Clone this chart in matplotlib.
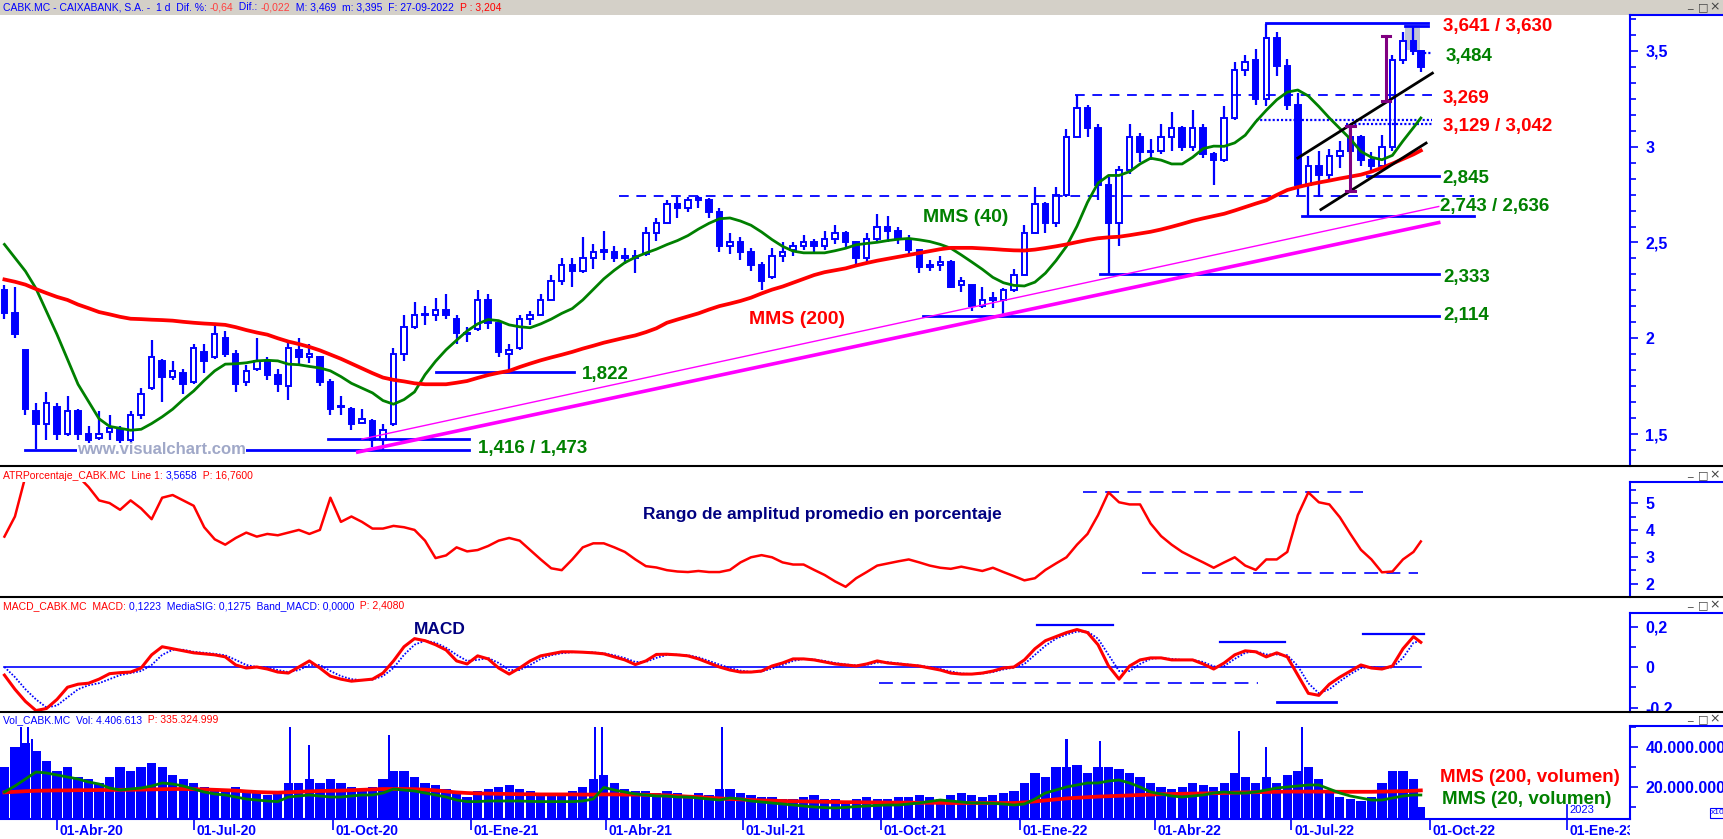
import numpy as np
import pandas as pd
import matplotlib
matplotlib.use('Agg')
import matplotlib.pyplot as plt
from matplotlib.lines import Line2D
from matplotlib.patches import Rectangle
from matplotlib.transforms import Bbox, TransformedBbox

plt.rcParams['font.family'] = ['Liberation Sans', 'DejaVu Sans']
plt.rcParams['lines.scale_dashes'] = False

# ---------------- DATA (weekly) ----------------
week_start = pd.date_range('2020-02-24', periods=136, freq='7D')

opens = [2.25,2.13,1.94,1.62,1.55,1.64,1.50,1.62,1.50,1.48,
1.51,1.52,1.47,1.60,1.74,1.88,1.80,1.82,1.77,1.93,
1.90,2.00,1.92,1.77,1.84,1.88,1.81,1.75,1.94,1.90,
1.90,1.77,1.64,1.63,1.56,1.57,1.47,1.55,1.92,2.06,
2.12,2.12,2.15,2.10,2.03,2.05,2.20,2.08,1.92,1.95,
2.10,2.12,2.20,2.30,2.38,2.35,2.42,2.46,2.45,2.42,
2.42,2.44,2.55,2.60,2.70,2.68,2.72,2.72,2.66,2.48,
2.50,2.45,2.38,2.32,2.43,2.46,2.48,2.50,2.48,2.52,
2.55,2.50,2.42,2.52,2.58,2.56,2.52,2.46,2.37,2.38,
2.40,2.28,2.28,2.17,2.20,2.20,2.25,2.33,2.55,2.70,
2.60,2.75,3.05,3.20,3.10,2.80,2.60,2.88,3.05,2.97,
2.98,3.05,3.10,3.00,3.10,2.96,2.93,3.15,3.40,3.45,
3.25,3.57,3.42,3.22,2.80,2.90,2.85,2.95,2.98,3.05,
2.93,2.90,3.00,3.45,3.55,3.50]
highs = [2.28,2.27,1.94,1.66,1.72,1.66,1.70,1.63,1.54,1.62,
1.60,1.54,1.62,1.74,1.99,1.89,1.88,1.84,1.97,1.97,
2.08,2.04,1.94,1.86,2.00,1.90,1.84,1.98,2.00,1.97,
1.91,1.79,1.70,1.64,1.63,1.58,1.55,1.95,2.12,2.19,
2.17,2.21,2.23,2.12,2.06,2.25,2.23,2.08,1.97,2.12,
2.14,2.23,2.33,2.42,2.42,2.53,2.49,2.56,2.48,2.47,
2.46,2.58,2.63,2.72,2.74,2.74,2.745,2.73,2.68,2.55,
2.53,2.47,2.40,2.47,2.50,2.50,2.54,2.52,2.56,2.59,
2.56,2.51,2.55,2.65,2.64,2.58,2.54,2.46,2.41,2.43,
2.41,2.32,2.28,2.27,2.24,2.26,2.36,2.59,2.79,2.71,
2.79,3.09,3.27,3.22,3.12,2.84,2.90,3.12,3.07,3.04,
3.12,3.18,3.11,3.19,3.12,2.97,3.21,3.44,3.48,3.51,
3.641,3.60,3.46,3.28,2.95,2.98,2.99,3.03,3.11,3.06,
2.97,3.06,3.48,3.60,3.63,3.50]
lows = [2.10,2.00,1.60,1.42,1.47,1.47,1.49,1.47,1.45,1.47,
1.47,1.45,1.45,1.58,1.73,1.67,1.78,1.71,1.76,1.82,
1.89,1.90,1.72,1.75,1.83,1.78,1.72,1.68,1.86,1.87,
1.75,1.60,1.60,1.52,1.55,1.43,1.416,1.54,1.88,2.05,
2.07,2.09,2.10,1.97,1.98,2.04,2.05,1.90,1.822,1.94,
2.07,2.12,2.20,2.28,2.27,2.34,2.36,2.41,2.40,2.39,
2.34,2.43,2.51,2.60,2.63,2.66,2.68,2.63,2.45,2.44,
2.41,2.35,2.25,2.31,2.40,2.43,2.46,2.44,2.46,2.49,
2.47,2.37,2.40,2.51,2.50,2.49,2.43,2.34,2.35,2.35,
2.26,2.24,2.14,2.16,2.16,2.114,2.24,2.33,2.55,2.55,
2.58,2.74,3.05,3.05,2.72,2.333,2.48,2.86,2.92,2.93,
2.96,2.98,2.98,2.98,2.94,2.80,2.92,3.14,3.37,3.22,
3.21,3.37,3.19,2.75,2.636,2.74,2.83,2.89,2.96,2.90,
2.87,2.89,2.98,3.43,3.48,3.39]
closes = [2.13,2.02,1.63,1.55,1.66,1.50,1.62,1.50,1.47,1.50,
1.53,1.47,1.60,1.71,1.90,1.80,1.83,1.76,1.95,1.88,
2.02,1.92,1.76,1.83,1.88,1.81,1.76,1.95,1.90,1.92,
1.77,1.63,1.64,1.55,1.58,1.47,1.52,1.92,2.06,2.12,
2.12,2.15,2.12,2.03,2.02,2.20,2.08,1.93,1.94,2.10,
2.12,2.20,2.30,2.38,2.35,2.42,2.45,2.45,2.42,2.42,
2.43,2.55,2.60,2.70,2.68,2.72,2.73,2.66,2.48,2.50,
2.45,2.38,2.30,2.43,2.45,2.48,2.50,2.48,2.52,2.55,
2.50,2.42,2.52,2.58,2.56,2.52,2.46,2.37,2.38,2.40,
2.27,2.30,2.17,2.20,2.20,2.25,2.33,2.55,2.70,2.60,
2.75,3.05,3.20,3.10,2.80,2.60,2.88,3.05,2.97,2.98,
3.05,3.10,3.00,3.10,2.96,2.93,3.15,3.40,3.44,3.25,
3.57,3.42,3.22,2.80,2.90,2.85,2.95,2.98,3.05,2.93,
2.90,3.00,3.45,3.55,3.50,3.415]

ma40 = [2.49,2.42,2.35,2.26,2.14,2.02,1.89,1.76,1.67,1.58,
1.54,1.53,1.52,1.525,1.555,1.59,1.63,1.68,1.725,1.78,
1.83,1.865,1.867,1.872,1.882,1.885,1.882,1.865,1.862,1.853,
1.845,1.83,1.80,1.765,1.74,1.715,1.675,1.656,1.68,1.72,
1.81,1.88,1.94,1.99,2.038,2.075,2.098,2.092,2.07,2.06,
2.055,2.075,2.10,2.13,2.155,2.20,2.255,2.31,2.355,2.395,
2.423,2.445,2.465,2.489,2.51,2.536,2.57,2.60,2.624,2.628,
2.612,2.59,2.555,2.515,2.48,2.455,2.446,2.446,2.446,2.457,
2.47,2.488,2.495,2.501,2.51,2.517,2.521,2.514,2.505,2.49,
2.47,2.435,2.398,2.36,2.318,2.29,2.276,2.273,2.293,2.34,
2.405,2.48,2.585,2.71,2.81,2.85,2.85,2.87,2.91,2.94,
2.93,2.91,2.91,2.945,2.99,3.003,3.002,3.02,3.06,3.13,
3.19,3.245,3.285,3.296,3.265,3.21,3.15,3.095,3.04,2.975,
2.945,2.932,2.955,3.03,3.10,3.15]
ma200 = [2.307,2.295,2.28,2.257,2.236,2.216,2.20,2.176,2.157,2.137,
2.125,2.112,2.102,2.10,2.097,2.095,2.092,2.086,2.081,2.077,
2.074,2.07,2.058,2.043,2.03,2.019,2.0,1.983,1.97,1.955,
1.937,1.915,1.893,1.868,1.843,1.818,1.795,1.783,1.775,1.765,
1.76,1.76,1.76,1.768,1.777,1.793,1.808,1.82,1.83,1.85,
1.868,1.885,1.90,1.914,1.929,1.946,1.961,1.977,1.99,2.003,
2.015,2.032,2.052,2.081,2.098,2.114,2.13,2.15,2.168,2.181,
2.195,2.212,2.234,2.254,2.27,2.29,2.31,2.33,2.345,2.355,
2.365,2.38,2.393,2.405,2.415,2.425,2.435,2.445,2.455,2.465,
2.472,2.472,2.472,2.469,2.466,2.462,2.459,2.458,2.463,2.471,
2.48,2.49,2.502,2.513,2.522,2.527,2.53,2.538,2.547,2.556,
2.568,2.582,2.597,2.613,2.626,2.638,2.65,2.667,2.685,2.703,
2.72,2.748,2.774,2.789,2.802,2.813,2.823,2.834,2.844,2.854,
2.87,2.89,2.912,2.936,2.96,2.98]

atr = [3.75,4.5,6.0,6.5,6.5,6.5,6.3,6.0,5.6,5.1,
5.0,4.75,5.1,4.8,4.4,5.2,5.3,5.1,4.9,4.1,
3.65,3.45,3.7,3.9,3.75,3.85,3.8,3.9,4.0,3.85,
4.0,5.2,4.3,4.5,4.3,4.05,4.05,4.15,4.1,4.0,
3.6,2.95,3.05,3.35,3.2,3.25,3.4,3.6,3.7,3.6,
3.25,2.9,2.57,2.5,2.9,3.35,3.5,3.5,3.35,3.18,
2.9,2.65,2.6,2.5,2.45,2.43,2.47,2.43,2.43,2.51,
2.79,2.98,3.06,2.98,2.79,2.71,2.71,2.51,2.32,2.08,
1.88,2.2,2.43,2.67,2.75,2.83,2.9,2.79,2.67,2.59,
2.55,2.63,2.55,2.47,2.59,2.43,2.28,2.12,2.2,2.51,
2.75,2.98,3.45,3.85,4.55,5.4,5.03,4.95,4.95,4.24,
3.77,3.45,3.18,2.98,2.79,2.59,2.79,2.98,2.67,2.51,
2.9,2.9,3.18,4.55,5.4,5.03,4.95,4.47,3.85,3.26,
2.9,2.42,2.45,2.9,3.18,3.57]

macd = [-0.04,-0.11,-0.17,-0.215,-0.205,-0.16,-0.10,-0.085,-0.08,-0.06,
-0.033,-0.028,-0.025,-0.005,0.06,0.10,0.09,0.08,0.07,0.065,
0.06,0.05,0.01,-0.005,0.0,-0.01,-0.025,-0.03,0.0,0.03,
-0.005,-0.045,-0.06,-0.07,-0.065,-0.06,-0.03,0.03,0.10,0.14,
0.13,0.11,0.084,0.03,0.015,0.055,0.04,-0.005,-0.035,-0.005,
0.03,0.055,0.065,0.075,0.075,0.073,0.07,0.065,0.05,0.035,
0.012,0.03,0.062,0.063,0.06,0.055,0.04,0.02,0.0,-0.015,
-0.025,-0.025,-0.02,0.005,0.02,0.04,0.04,0.035,0.025,0.015,
0.01,0.005,0.015,0.03,0.02,0.015,0.01,0.005,-0.005,-0.015,
-0.03,-0.035,-0.035,-0.03,-0.02,-0.005,0.0,0.035,0.09,0.13,
0.15,0.17,0.185,0.17,0.11,0.005,-0.06,0.005,0.035,0.045,
0.045,0.035,0.035,0.035,0.015,-0.01,0.02,0.06,0.08,0.075,
0.05,0.07,0.05,-0.04,-0.13,-0.14,-0.085,-0.05,-0.02,0.01,
-0.005,-0.01,0.005,0.09,0.15,0.122]
signal = [0.0,-0.05,-0.11,-0.16,-0.2,-0.19,-0.15,-0.11,-0.09,-0.08,
-0.06,-0.04,-0.03,-0.02,0.01,0.06,0.085,0.085,0.075,0.07,
0.065,0.058,0.035,0.01,0.0,-0.003,-0.015,-0.025,-0.015,0.01,
0.01,-0.02,-0.045,-0.06,-0.065,-0.062,-0.045,-0.005,0.06,0.11,
0.13,0.12,0.095,0.06,0.03,0.035,0.045,0.02,-0.015,-0.015,
0.01,0.04,0.058,0.068,0.073,0.074,0.072,0.068,0.058,0.044,
0.025,0.025,0.045,0.06,0.061,0.058,0.048,0.03,0.012,-0.005,
-0.018,-0.024,-0.022,-0.008,0.01,0.03,0.04,0.037,0.03,0.02,
0.013,0.008,0.01,0.022,0.024,0.018,0.012,0.007,0.0,-0.01,
-0.022,-0.032,-0.035,-0.032,-0.025,-0.012,-0.003,0.015,0.06,0.105,
0.14,0.16,0.175,0.175,0.14,0.06,-0.02,-0.02,0.015,0.04,
0.045,0.04,0.035,0.035,0.025,0.003,0.005,0.04,0.07,0.078,
0.062,0.062,0.058,0.005,-0.08,-0.13,-0.11,-0.07,-0.035,-0.005,
0.0,-0.007,-0.002,0.045,0.12,0.128]

volume_m = [30,40,42,38,33,28,30,25,24,22,
25,30,28,30,32,30,26,24,22,20,
18,19,20,18,17,16,18,22,22,24,
22,24,22,20,19,20,24,28,28,25,
22,21,19,18,15,18,19,20,21,19,
18,17,16,17,18,20,24,26,22,19,
18,18,17,18,17,16,17,16,19,19,
17,16,15,15,14,14,15,16,14,14,
13,14,15,14,14,15,15,16,15,14,
16,17,16,15,16,17,18,22,27,25,
30,30,31,27,30,30,29,27,25,22,
20,19,20,22,21,20,22,27,25,22,
25,22,26,28,30,24,18,15,14,13,
15,22,28,28,24,10]
spike_dates = ['2020-03-09','2020-03-12','2020-03-16','2020-09-03','2020-09-16',
               '2020-11-09','2021-03-25','2021-03-30','2021-06-17','2022-02-02',
               '2022-02-24','2022-05-27','2022-06-15','2022-07-08']
spike_vol_m = [50,50,44,50,41,46,50,50,50,44,43,48,40,50]
vma20 = [17.5,20.5,24,27.5,27,26,25,24,22.5,21.5,
19.5,18.5,19,19.5,20.5,22,21.5,20.5,19,17.5,
16.5,16,15,14,13.5,13,12.7,15,15.5,16,
15.5,15,15,15.5,16,16,17,19,18.5,18,
17,16,15,13.5,12.7,12.7,13,13,13,13,
12.8,12.7,12.7,12.7,12.7,13,14,19.8,18.5,17.5,
16.5,16,15.5,15.5,15,15,14.5,14,13.5,14.5,
14,13,12.5,12,11.5,11,10.5,10,9.7,9.5,
9.8,10.2,10.5,10.8,11,11,11.5,12,12.8,13.5,
13,12.5,12,12,11.8,11.5,11,11.5,14,17,
18.5,20,21,22,22,23,23.5,22,20,17.5,
16.5,15.5,15,15.5,16,17,17.5,17,17,17.5,
18.5,19.5,20,20.5,21,21,19,17,15.5,14.5,
13.5,13.5,14.5,15.5,16,16]
vma200 = [17.3,17.6,17.9,18.1,18.2,18.3,18.3,18.4,18.4,18.5,
18.5,18.6,18.6,18.7,18.8,18.9,19.0,19.0,18.9,18.8,
18.6,18.4,18.2,17.8,17.5,17.3,17.2,17.4,17.6,17.8,
18.0,18.1,18.2,18.4,18.6,18.8,19.0,19.0,19.0,18.9,
18.7,18.3,17.8,17.3,17.0,16.8,16.7,16.6,16.5,16.4,
16.4,16.3,16.3,16.3,16.3,16.2,16.2,16.3,16.3,16.2,
16.2,16.1,16.0,15.8,15.5,15.2,15.0,14.6,14.3,14.0,
13.8,13.5,13.3,13.2,13.0,12.9,12.8,12.7,12.6,12.5,
12.4,12.4,12.3,12.3,12.2,12.2,12.2,12.1,12.1,12.1,
12.0,12.0,12.0,12.0,12.0,12.0,12.0,12.3,12.8,13.3,
13.8,14.3,14.6,14.9,15.2,15.4,15.6,15.8,16.0,16.2,
16.4,16.5,16.6,16.7,16.8,16.9,17.0,17.2,17.3,17.4,
17.5,17.6,17.7,17.7,17.7,17.7,17.7,17.6,17.6,17.6,
17.6,17.7,17.8,17.9,18.1,18.3]

quarter_dates = ['2020-04-01','2020-07-01','2020-10-01','2021-01-01','2021-04-01',
                 '2021-07-01','2021-10-01','2022-01-01','2022-04-01','2022-07-01',
                 '2022-10-01','2023-01-01']
quarter_labels = ['01-Abr-20','01-Jul-20','01-Oct-20','01-Ene-21','01-Abr-21',
                  '01-Jul-21','01-Oct-21','01-Ene-22','01-Abr-22','01-Jul-22',
                  '01-Oct-22','01-Ene-23']

# ---------------- LAYOUT ----------------
W, H = 1723, 839
BLUE = '#0000FF'; RED = '#FF0000'; GREEN = '#008000'; NAVY = '#000080'
fig = plt.figure(figsize=(W/100, H/100), dpi=100)
fig.patch.set_facecolor('white')

BASE = np.datetime64('2020-04-01', 'D')
def bidx(d):
    return np.busday_count(BASE, np.asarray(d, dtype='datetime64[D]')).astype(float)

px_per = (1567 - 57) / bidx('2023-01-02')
X0 = -57 / px_per
X1 = (1630 - 57) / px_per

wk = bidx(week_start.values.astype('datetime64[D]')) + 2.0
wk[-1] -= 1.5

def add_ax(x0, y0, x1, y1):
    ax = fig.add_axes([x0/W, 1-y1/H, (x1-x0)/W, (y1-y0)/H])
    ax.set_xlim(X0, X1)
    for s in ['top', 'left', 'bottom']:
        ax.spines[s].set_visible(False)
    ax.spines['right'].set_color(BLUE)
    ax.spines['right'].set_linewidth(1.5)
    ax.yaxis.tick_right()
    ax.tick_params(axis='x', bottom=False, labelbottom=False)
    ax.tick_params(axis='y', which='both', colors=BLUE, direction='out', width=1.2, pad=5)
    ax.tick_params(axis='y', which='major', length=6, labelsize=11.5)
    ax.tick_params(axis='y', which='minor', length=4)
    ax.patch.set_alpha(0)
    return ax

def fline(x0, x1, y, color, lw=1.5):
    fig.add_artist(Line2D([x0/W, x1/W], [1-y/H, 1-y/H], transform=fig.transFigure,
                          color=color, lw=lw))

def ftext(x, y, s, **kw):
    return fig.text(x/W, 1-y/H, s, **kw)

# header strip
fig.add_artist(Rectangle((0, 1-15/H), 1, 15/H, transform=fig.transFigure,
                         fc='#D4D0C8', ec='none', zorder=0))

ax_p = add_ax(0, 15, 1630, 466)
ax_a = add_ax(0, 482, 1630, 597)
ax_m = add_ax(0, 613, 1630, 712)
ax_v = add_ax(0, 726, 1630, 819)

# ---------- price panel ----------
o = np.array(opens); h = np.array(highs); l = np.array(lows); c = np.array(closes)
ax_p.set_ylim(3 + (147-466)/192, 3 + (147-15)/192)
ax_p.vlines(wk, l, h, color=BLUE, lw=1.6, zorder=2)
body_lo = np.minimum(o, c)
body_h = np.maximum(np.abs(c - o), 0.008)
ax_p.bar(wk, body_h, bottom=body_lo, width=2.6,
         color=['white' if cc >= oo else BLUE for oo, cc in zip(o, c)],
         edgecolor=BLUE, lw=1.4, zorder=3)
ax_p.plot(wk, ma40, color=GREEN, lw=2.0, zorder=5)
ax_p.plot(wk, ma200, color=RED, lw=2.7, zorder=5)

def d(s):
    return bidx(s)

# horizontal levels
solid = dict(color=BLUE, lw=2.0, zorder=4)
dashed = dict(color=BLUE, lw=1.3, dashes=(7, 5.5), zorder=4)
dotted = dict(color=BLUE, lw=1.6, dashes=(1.5, 1.5), zorder=4)
ax_p.plot([d('2022-06-15'), d('2022-09-30')], [3.644, 3.644], **solid)
ax_p.plot([d('2022-09-15'), d('2022-09-30')], [3.630, 3.630], **solid)
ax_p.add_patch(Rectangle((d('2022-09-15'), 3.505), d('2022-09-26') - d('2022-09-15'), 0.13,
                         fc='#C0C4D4', ec='none', zorder=1))
ax_p.plot([d('2022-09-26'), d('2022-10-04')], [3.488, 3.488], **dotted)
ax_p.plot([d('2022-02-08'), d('2022-10-06')], [3.269, 3.269], **dashed)
ax_p.plot([d('2022-06-08'), d('2022-10-04')], [3.141, 3.141], **dotted)
ax_p.plot([d('2022-08-08'), d('2022-10-04')], [3.120, 3.120], **dotted)
ax_p.plot([d('2022-08-22'), d('2022-10-07')], [2.845, 2.845], **solid)
ax_p.plot([d('2021-04-09'), d('2022-11-01')], [2.743, 2.743], **dashed)
ax_p.plot([d('2022-07-08'), d('2022-11-01')], [2.636, 2.636], **solid)
ax_p.plot([d('2022-02-24'), d('2022-10-07')], [2.333, 2.333], **solid)
ax_p.plot([d('2021-10-29'), d('2022-10-07')], [2.114, 2.114], **solid)
ax_p.plot([d('2020-12-09'), d('2021-03-11')], [1.822, 1.822], **solid)
ax_p.plot([d('2020-09-29'), d('2020-12-31')], [1.473, 1.473], **solid)
ax_p.plot([d('2020-03-11'), d('2020-12-31')], [1.416, 1.416], **solid)

# trend lines
ax_p.plot([d('2020-10-19'), d('2022-10-07')], [1.406, 2.604], color='#FF00FF', lw=2.6, zorder=4)
ax_p.plot([d('2020-10-21'), d('2022-10-07')], [1.474, 2.688], color='#FF00FF', lw=1.0, zorder=4)
ax_p.plot([d('2022-07-06'), d('2022-10-04')], [2.941, 3.384], color='black', lw=2.0, zorder=6)
ax_p.plot([d('2022-07-21'), d('2022-09-29')], [2.672, 3.019], color='black', lw=2.0, zorder=6)
for dt, lo_, hi_ in [('2022-08-10', 2.767, 3.106), ('2022-09-02', 3.236, 3.578)]:
    xx = d(dt)
    ax_p.plot([xx, xx], [lo_, hi_], color='#800080', lw=2.2, zorder=7)
    for yy in (lo_, hi_):
        ax_p.plot([xx-2.0, xx+2.0], [yy, yy], color='#800080', lw=2.2, zorder=7)

ax_p.set_yticks([1.5, 2.0, 2.5, 3.0, 3.5])
ax_p.set_yticklabels(['1,5', '2', '2,5', '3', '3,5'], fontweight='bold')
ax_p.set_yticks(np.arange(1.5 - 2/12, 3.7, 0.5/6), minor=True)

# ---------- ATR panel ----------
ax_a.set_ylim(2 - 9/28, 5 + 22/28)
ax_a.plot(wk, atr, color=RED, lw=1.8, zorder=3)
ax_a.plot([d('2022-02-14'), d('2022-08-18')], [5.43, 5.43], color=BLUE, lw=1.2, dashes=(10, 6))
ax_a.plot([d('2022-03-24'), d('2022-09-23')], [2.39, 2.39], color=BLUE, lw=1.2, dashes=(10, 6))
ax_a.set_yticks([2, 3, 4, 5])
ax_a.set_yticklabels(['2', '3', '4', '5'], fontweight='bold')
ax_a.set_yticks(np.arange(1.5, 6.0, 0.5), minor=True)

# ---------- MACD panel ----------
ax_m.set_ylim((667-712)/202.5, (667-613)/202.5)
ax_m.plot([wk[0], wk[-1]], [0, 0], color=BLUE, lw=1.2, zorder=2)
ax_m.plot(wk, signal, color=BLUE, lw=1.3, dashes=(1.2, 1.2), zorder=3)
ax_m.plot(wk, macd, color=RED, lw=2.2, zorder=4)
ax_m.plot([d('2022-01-13'), d('2022-03-04')], [0.205, 0.205], color=BLUE, lw=1.6)
ax_m.plot([d('2022-05-16'), d('2022-06-28')], [0.124, 0.124], color=BLUE, lw=1.6)
ax_m.plot([d('2022-08-18'), d('2022-09-28')], [0.165, 0.165], color=BLUE, lw=1.6)
ax_m.plot([d('2021-09-30'), d('2022-06-09')], [-0.08, -0.08], color=BLUE, lw=1.2, dashes=(10, 6))
ax_m.plot([d('2022-06-22'), d('2022-08-01')], [-0.171, -0.171], color=BLUE, lw=2.0)
ax_m.set_yticks([-0.2, 0.0, 0.2])
ax_m.set_yticklabels(['-0,2', '0', '0,2'], fontweight='bold')
ax_m.set_yticks([-0.1, 0.1], minor=True)
clipbb = TransformedBbox(Bbox([[1630/W, 1-712/H], [1.0, 1-597/H]]), fig.transFigure)
for t in ax_m.get_yticklabels():
    t.set_clip_box(clipbb)
    t.set_clip_on(True)

# ---------- Volume panel ----------
ax_v.set_ylim((827-819)/2, (827-726)/2)
ax_v.bar(wk, volume_m, width=4.4, color=BLUE, lw=0, zorder=2)
ax_v.bar(bidx(spike_dates), spike_vol_m, width=1.0, color=BLUE, lw=0, zorder=2)
ax_v.plot(wk, vma200, color=RED, lw=2.7, zorder=4)
ax_v.plot(wk, vma20, color=GREEN, lw=2.0, zorder=4)
ax_v.spines['bottom'].set_visible(True)
ax_v.spines['bottom'].set_color(BLUE)
ax_v.spines['bottom'].set_linewidth(1.5)
ax_v.set_yticks([20, 40])
ax_v.set_yticklabels(['20.000.000', '40.000.000'], fontweight='bold')
ax_v.set_yticks([10, 30, 50], minor=True)
qpos = bidx(quarter_dates)
ax_v.set_xticks(qpos)
ax_v.tick_params(axis='x', bottom=True, labelbottom=False, direction='out',
                 length=8, width=1.2, colors=BLUE)
x23 = bidx('2023-01-02')
ax_v.plot([x23, x23], [4, 11], color=BLUE, lw=1.2, clip_on=False)
ax_v.text(x23 + 1.0, 8.3, '2023', color=BLUE, fontsize=8, va='center', ha='left')

# x labels strip (clipped at plot edge)
ax_lab = fig.add_axes([0, 0, 1630/W, 20/H])
ax_lab.set_xlim(X0, X1); ax_lab.set_ylim(0, 1); ax_lab.axis('off')
for p_, s_ in zip(qpos, quarter_labels):
    t = ax_lab.text(p_ + 1.2, 0.38, s_, color=BLUE, fontsize=10, fontweight='bold',
                    ha='left', va='center')
    t.set_clip_box(ax_lab.bbox); t.set_clip_on(True)

# ---------- separators & frame pieces ----------
for yy in (466, 597, 712):
    fline(0, W, yy, 'black', 1.5)
for yy in (15, 482, 613, 726):
    fline(1630, W, yy, BLUE, 1.5)

# ---------- texts ----------
renderer = fig.canvas.get_renderer()
def pieces(x, y, parts, size=7.5):
    for s, col in parts:
        t = ftext(x, y, s, color=col, fontsize=size, va='center', ha='left')
        x += t.get_window_extent(renderer).width

pieces(3, 7.5, [('CABK.MC - CAIXABANK, S.A. -  1 d  Dif. %: ', BLUE), ('-0,64', '#FF4040'),
                ('  Dif.: ', BLUE), ('-0,022', '#FF4040'),
                ('  M: 3,469  m: 3,395  F: 27-09-2022  ', BLUE), ('P : 3,204', RED)])
pieces(3, 476, [('ATRPorcentaje_CABK.MC  Line 1: ', RED), ('3,5658', BLUE), ('  P: 16,7600', RED)])
pieces(3, 606, [('MACD_CABK.MC  MACD: ', RED), ('0,1223  MediaSIG: 0,1275  Band_MACD: 0,0000', BLUE),
                ('  P: 2,4080', RED)])
pieces(3, 720, [('Vol_CABK.MC  Vol: 4.406.613', BLUE), ('  P: 335.324.999', RED)])

for yy in (7, 475, 605, 719):
    ftext(1690, yy - 2, '_', color='#404040', fontsize=8, ha='center', va='center',
          family='DejaVu Sans')
    ftext(1703, yy, '\u25a1', color='#404040', fontsize=8, ha='center', va='center',
          family='DejaVu Sans')
    ftext(1715, yy, '\u00d7', color='#404040', fontsize=9, ha='center', va='center',
          family='DejaVu Sans')

lab = dict(fontsize=13.5, fontweight='bold', va='center', ha='left')
ftext(1443, 27, '3,641 / 3,630', color=RED, **lab)
ftext(1446, 56, '3,484', color=GREEN, **lab)
ftext(1443, 98, '3,269', color=RED, **lab)
ftext(1443, 127, '3,129 / 3,042', color=RED, **lab)
ftext(1442, 178, '2,845', color=GREEN, **lab)
ftext(1440, 207, '2,743 / 2,636', color=GREEN, **lab)
ftext(1443, 277, '2,333', color=GREEN, **lab)
ftext(1443, 316, '2,114', color=GREEN, **lab)
ftext(582, 375, '1,822', color=GREEN, **lab)
ftext(478, 448, '1,416 / 1,473', color=GREEN, **lab)
ftext(923, 217, 'MMS (40)', color=GREEN, fontsize=14, fontweight='bold', va='center', ha='left')
ftext(749, 320, 'MMS (200)', color=RED, fontsize=14, fontweight='bold', va='center', ha='left')
ftext(77, 450, 'www.visualchart.com', color='#A0A8C8', fontsize=12, fontweight='bold',
      va='center', ha='left', bbox=dict(fc='white', ec='none', pad=0))
ftext(822, 514, 'Rango de amplitud promedio en porcentaje', color=NAVY, fontsize=12.5,
      fontweight='bold', va='center', ha='center')
ftext(440, 629, 'MACD', color=NAVY, fontsize=12.5, fontweight='bold', va='center', ha='center')
ftext(1440, 778, 'MMS (200, volumen)', color=RED, fontsize=13.5, fontweight='bold', va='center', ha='left')
ftext(1442, 800, 'MMS (20, volumen)', color=GREEN, fontsize=13.5, fontweight='bold', va='center', ha='left')
ftext(1711, 813, 'x10', color=BLUE, fontsize=6, va='center', ha='left',
      bbox=dict(fc='white', ec=BLUE, lw=0.8, pad=1))

fig.savefig('out.png', dpi=100, facecolor='white')
